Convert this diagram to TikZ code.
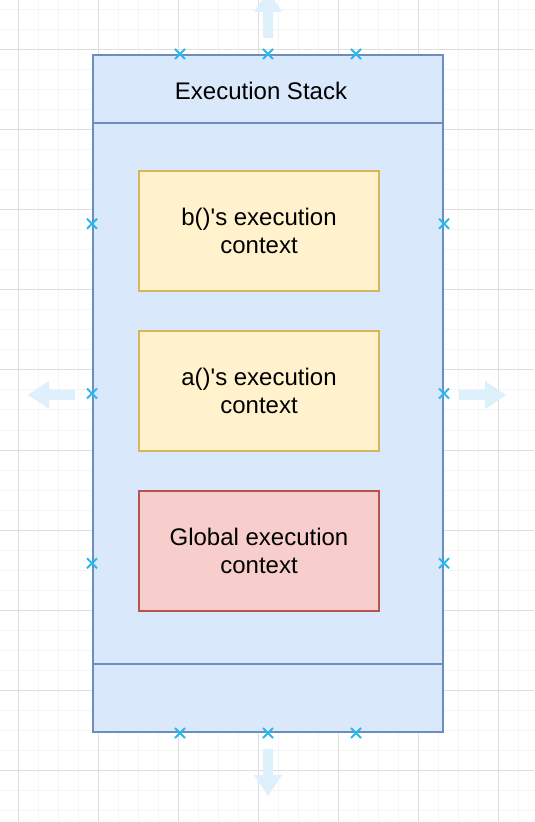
\documentclass[tikz,border=0pt]{standalone}
\usepackage{fontspec}
\setmainfont{Liberation Sans}
\usetikzlibrary{calc}
\definecolor{stackfill}{HTML}{DAE8FC}
\definecolor{stackline}{HTML}{6C8EBF}
\definecolor{ctxfill}{HTML}{FFF2CC}
\definecolor{ctxline}{HTML}{D6B656}
\definecolor{globalfill}{HTML}{F8CECC}
\definecolor{globalline}{HTML}{B85450}
\definecolor{markercolor}{RGB}{41,182,242}
\definecolor{hintcolor}{RGB}{221,240,251}
\definecolor{minorgrid}{RGB}{245,245,245}
\definecolor{majorgrid}{RGB}{222,222,222}
\begin{document}
\begin{tikzpicture}[x=0.5pt,y=-0.5pt]
\tikzstyle{minor-line}=[minorgrid,line width=0.5pt]
\tikzstyle{major-line}=[majorgrid,line width=0.5pt]
\tikzstyle{stackbox}=[draw=stackline, fill=stackfill, line width=1pt, minimum width=175pt, inner sep=0pt]
\tikzstyle{ctxbox}=[draw=ctxline, fill=ctxfill, line width=0.75pt, minimum width=120pt, minimum height=60pt, align=center, font=\fontsize{12}{14}\selectfont]
\tikzstyle{globalbox}=[ctxbox, draw=globalline, fill=globalfill]
\tikzstyle{marker}=[markercolor, line width=1pt]
\tikzstyle{hint}=[fill=hintcolor]
\useasboundingbox (0,0) rectangle (534,822);
\fill[white] (0,0) rectangle (534,822);
\foreach \x in {-2,18,...,534} \draw[style=minor-line] (\x,0) -- (\x,822);
\foreach \y in {10,30,...,822} \draw[style=minor-line] (0,\y) -- (534,\y);
\foreach \x in {18,98,...,534} \draw[style=major-line] (\x,0) -- (\x,822);
\foreach \y in {50,130,...,822} \draw[style=major-line] (0,\y) -- (534,\y);

\fill[style=hint] (263,38) -- (263,12) -- (254,12) -- (268,-9) -- (282,12) -- (273,12) -- (273,38) -- cycle;
\fill[style=hint] (263,749) -- (263,775) -- (254,775) -- (268,796) -- (282,775) -- (273,775) -- (273,749) -- cycle;
\fill[style=hint] (75,390) -- (49,390) -- (49,381) -- (28,395) -- (49,409) -- (49,400) -- (75,400) -- cycle;
\fill[style=hint] (459,390) -- (485,390) -- (485,381) -- (506,395) -- (485,409) -- (485,400) -- (459,400) -- cycle;

\node[style=stackbox, minimum height=338.5pt] (stack) at (268,393.5) {};
\node[style=stackbox, minimum height=34pt] (header) at (268,89) {};
\node[style=stackbox, minimum height=34pt] (footer) at (268,698) {};
\node[font=\fontsize{12}{14}\selectfont] (title) at (261,91) {Execution Stack};

\node[style=ctxbox] (bctx) at (259,231) {b()\textquotesingle s execution\\context};
\node[style=ctxbox] (actx) at (259,391) {a()\textquotesingle s execution\\context};
\node[style=globalbox] (gctx) at (259,551) {Global execution\\context};

\foreach \f in {0.25,0.5,0.75} {
  \draw[style=marker] ($(stack.north west)!\f!(stack.north east)$) +(-5,-5) -- +(5,5) +(-5,5) -- +(5,-5);
  \draw[style=marker] ($(stack.south west)!\f!(stack.south east)$) +(-5,-5) -- +(5,5) +(-5,5) -- +(5,-5);
  \draw[style=marker] ($(stack.north west)!\f!(stack.south west)$) +(-5,-5) -- +(5,5) +(-5,5) -- +(5,-5);
  \draw[style=marker] ($(stack.north east)!\f!(stack.south east)$) +(-5,-5) -- +(5,5) +(-5,5) -- +(5,-5);
}
\end{tikzpicture}
\end{document}
